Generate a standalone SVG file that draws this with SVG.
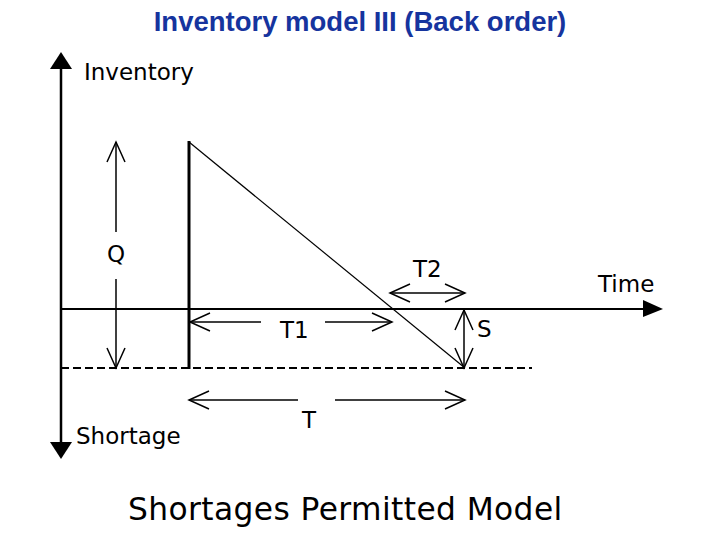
<svg xmlns="http://www.w3.org/2000/svg" width="720" height="540" viewBox="0 0 720 540">
<style>
  .lbl { font-family: "DejaVu Sans", "Liberation Sans", sans-serif; font-size: 23px; fill: #000; }
  .title { font-family: "Liberation Sans", Arial, sans-serif; font-weight: bold; font-size: 27.5px; fill: #16349e; }
  .axis { stroke: #000; stroke-width: 2.5; fill: none; }
  .thin { stroke: #000; stroke-width: 1.2; fill: none; }
  .dim { stroke: #000; stroke-width: 1.5; fill: none; marker-end: url(#open); }
  .dim2 { stroke: #000; stroke-width: 1.5; fill: none; marker-end: url(#open); marker-start: url(#open); }
</style>
<defs>
  <marker id="open" markerUnits="userSpaceOnUse" viewBox="-24 -12 26 24" refX="0" refY="0" markerWidth="26" markerHeight="24" orient="auto-start-reverse">
    <path d="M-20,-9 L0,0 L-20,9" fill="none" stroke="#000" stroke-width="1.5"/>
  </marker>
</defs>
<rect width="720" height="540" fill="#fff"/>
<text class="title" x="360" y="31" text-anchor="middle">Inventory model III (Back order)</text>

<g id="axes">
  <line class="axis" x1="61" y1="66" x2="61" y2="445"/>
  <polygon points="61,52 50,69 72,69" fill="#000"/>
  <polygon points="61,459 50,442 72,442" fill="#000"/>
  <line x1="61" y1="309" x2="648" y2="309" stroke="#000" stroke-width="2"/>
  <polygon points="663,309 643,300 643,317" fill="#000"/>
  <line x1="61" y1="368" x2="532" y2="368" stroke="#000" stroke-width="2" stroke-dasharray="8,4"/>
</g>

<g id="inventory-curve">
  <line x1="189" y1="141" x2="189" y2="369" stroke="#000" stroke-width="3"/>
  <line class="thin" x1="189" y1="142" x2="465" y2="368"/>
</g>

<g id="connectors">
  <line class="dim" x1="116" y1="232" x2="116" y2="142"/>
  <line class="dim" x1="116" y1="279" x2="116" y2="368"/>
  <line class="dim" x1="261" y1="322" x2="190" y2="322"/>
  <line class="dim" x1="325" y1="322" x2="392" y2="322"/>
  <line class="dim2" x1="390" y1="293" x2="465" y2="293"/>
  <line class="dim2" x1="464" y1="310" x2="464" y2="368"/>
  <line class="dim" x1="298" y1="400" x2="189" y2="400"/>
  <line class="dim" x1="335" y1="400" x2="465" y2="400"/>
</g>

<g id="labels">
  <text class="lbl" x="84" y="80">Inventory</text>
  <text class="lbl" x="598" y="292">Time</text>
  <text class="lbl" x="76" y="444">Shortage</text>
  <text class="lbl" x="107" y="262">Q</text>
  <text class="lbl" x="280" y="338">T1</text>
  <text class="lbl" x="413" y="277">T2</text>
  <text class="lbl" x="477" y="337">S</text>
  <text class="lbl" x="302" y="428">T</text>
  <text class="lbl" x="128" y="520" style="font-size:31.3px;letter-spacing:0.4px">Shortages Permitted Model</text>
</g>
</svg>
